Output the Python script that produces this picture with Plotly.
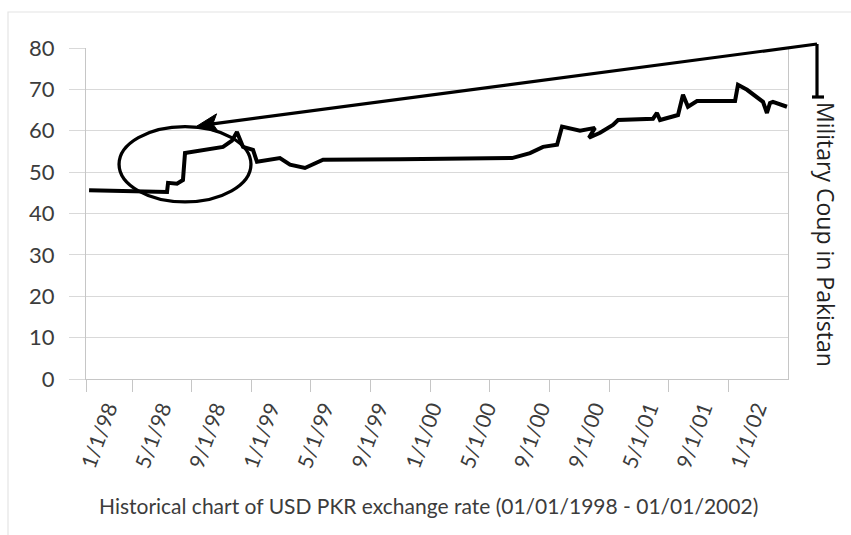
import plotly.graph_objects as go

# USD/PKR exchange rate, x measured in months from the start of 1998
months = [0.21, 5.54, 5.61, 6.09, 6.22, 6.63, 6.77, 9.37, 9.98, 10.32, 10.74, 11.42,
          11.69, 13.26, 13.95, 14.97, 16.21, 21.5, 28.65, 29.13, 30.36, 31.25, 32.21,
          32.55, 33.78, 34.80, 34.39, 35.15, 36.03, 36.38, 38.77, 39.04, 39.25, 40.48,
          40.82, 41.16, 41.78, 44.38, 44.58, 45.20, 46.29, 46.56, 46.77, 46.97, 47.93]
rate = [45.6, 45.2, 47.4, 47.4, 47.2, 48.1, 54.6, 56.1, 57.6, 59.7, 56.1, 55.4,
        52.5, 53.4, 51.8, 51.0, 53.0, 53.1, 53.3, 53.4, 54.6, 56.1, 56.6,
        61.0, 60.0, 60.7, 58.3, 59.5, 61.4, 62.6, 62.9, 64.3, 62.6, 63.8,
        68.7, 65.8, 67.2, 67.2, 71.1, 69.9, 67.0, 64.3, 66.7, 67.0, 65.8]

tick_labels = ["1/1/98", "5/1/98", "9/1/98", "1/1/99", "5/1/99", "9/1/99", "1/1/00",
               "5/1/00", "9/1/00", "9/1/00", "5/1/01", "9/1/01", "1/1/02"]

x_title = "Historical chart of USD PKR exchange rate (01/01/1998 - 01/01/2002)"
event_text = "Military Coup in Pakistan"

W, H = 851, 535
L, R, T, B = 86, 63, 48, 156
PW, PH = W - L - R, H - T - B
XMAX, YMAX = 48.0, 80.0

# label and tick-mark layout along the category axis
label_pos = [1.5 + 3.70 * i for i in range(len(tick_labels))]
mark_pos = [0.0] + [3.15 + 4.078 * k for k in range(12)]


def px_to_paper(px, py):
    return (px - L) / PW, (H - B - py) / PH


GRID = "#d9d9d9"
AXIS = "#c6c6c6"
TXT = "#3c3c3c"

fig = go.Figure()
fig.add_trace(go.Scatter(x=months, y=rate, mode="lines",
                         line=dict(color="black", width=4),
                         showlegend=False, hoverinfo="skip"))
# invisible trace to activate the tick-mark axis
fig.add_trace(go.Scatter(x=[0], y=[0], xaxis="x2", mode="markers",
                         marker=dict(opacity=0), showlegend=False, hoverinfo="skip"))

shapes = []
# outer chart frame
fx0, fy0 = px_to_paper(8, 12)
fx1, fy1 = px_to_paper(870, 560)
shapes.append(dict(type="rect", xref="paper", yref="paper", x0=fx0, y0=fy1, x1=fx1, y1=fy0,
                   line=dict(color="#e4e4e4", width=1.2), layer="below"))

# ellipse around the 1998 jump
shapes.append(dict(type="circle", xref="x", yref="y", x0=2.26, x1=11.28, y0=42.8, y1=61.0,
                   line=dict(color="black", width=3.3)))

# bracket and arrow to the event label
tail = (817, 44)
tip = (197, 126)
bx, by = px_to_paper(817, 44)
cx, cy = px_to_paper(817, 97)
shapes.append(dict(type="line", xref="paper", yref="paper", x0=bx, y0=by, x1=cx, y1=cy,
                   line=dict(color="black", width=3.2)))
c0x, _ = px_to_paper(812, 97)
c1x, _ = px_to_paper(824, 97)
shapes.append(dict(type="line", xref="paper", yref="paper", x0=c0x, y0=cy, x1=c1x, y1=cy,
                   line=dict(color="black", width=3.2)))

dx, dy = tip[0] - tail[0], tip[1] - tail[1]
ln = (dx * dx + dy * dy) ** 0.5
ux, uy = dx / ln, dy / ln
nx, ny = -uy, ux
hl, hw = 21, 9.5
base = (tip[0] - ux * hl, tip[1] - uy * hl)
notch = (tip[0] - ux * (hl - 5), tip[1] - uy * (hl - 5))
p1 = (base[0] + nx * hw, base[1] + ny * hw)
p2 = (base[0] - nx * hw, base[1] - ny * hw)
sx, sy = px_to_paper(*notch)
shapes.append(dict(type="line", xref="paper", yref="paper", x0=bx, y0=by, x1=sx, y1=sy,
                   line=dict(color="black", width=3.2)))
pts = [px_to_paper(*p) for p in (tip, p1, notch, p2)]
path = "M " + " L ".join(f"{a:.5f},{b:.5f}" for a, b in pts) + " Z"
shapes.append(dict(type="path", xref="paper", yref="paper", path=path,
                   fillcolor="black", line=dict(color="black", width=1)))

tx, ty = px_to_paper(826, 234)
ax_, ay_ = px_to_paper(428, 505)
annotations = [
    dict(text=event_text, xref="paper", yref="paper", x=tx, y=ty, textangle=90,
         showarrow=False, xanchor="center", yanchor="middle",
         font=dict(family="Open Sans", size=23, color="#222222")),
    dict(text=x_title, xref="paper", yref="paper", x=ax_, y=ay_,
         showarrow=False, xanchor="center", yanchor="middle",
         font=dict(family="Lato", size=21, color=TXT)),
]

fig.update_layout(
    width=W, height=H,
    margin=dict(l=L, r=R, t=T, b=B, pad=0),
    plot_bgcolor="white", paper_bgcolor="white",
    shapes=shapes, annotations=annotations,
    xaxis=dict(range=[0, XMAX], tickmode="array", tickvals=label_pos, ticktext=tick_labels,
               tickangle=-70, ticks="", showgrid=False, zeroline=False,
               showline=True, linecolor=AXIS, linewidth=1.2,
               ticklabelstandoff=8,
               tickfont=dict(family="Lato", size=21, color=TXT)),
    xaxis2=dict(range=[0, XMAX], overlaying="x", side="bottom", tickmode="array",
                tickvals=mark_pos, ticks="outside", ticklen=12, tickcolor=AXIS, tickwidth=1.2,
                showticklabels=False, showgrid=False, zeroline=False, showline=False),
    yaxis=dict(range=[0, YMAX], dtick=10, showgrid=True, gridcolor=GRID, gridwidth=1.2,
               zeroline=False, showline=True, mirror=True, linecolor=AXIS, linewidth=1.2,
               ticks="outside", ticklen=16, tickcolor=GRID, tickwidth=1.2,
               ticklabelstandoff=10,
               tickfont=dict(family="Lato", size=22, color=TXT)),
)

fig.write_html("out.html")
